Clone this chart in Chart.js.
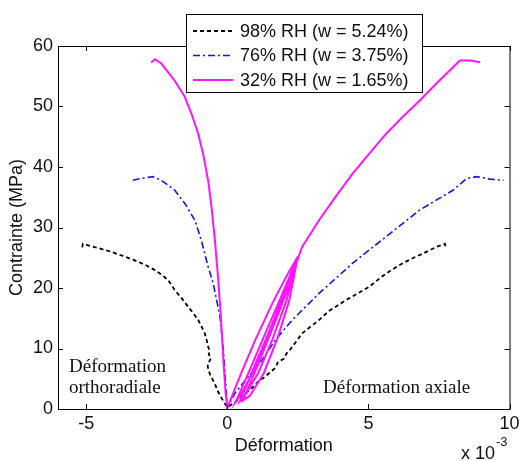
<!DOCTYPE html>
<html>
<head>
<meta charset="utf-8">
<script src="https://cdn.jsdelivr.net/npm/chart.js@4/dist/chart.umd.min.js"></script>
<style>
  html, body { margin: 0; padding: 0; background: #fff; }
  #wrap { width: 526px; height: 461px; }
</style>
</head>
<body>
<div id="wrap"><canvas id="grafico"></canvas></div>
<script>
// valeurs (deformation en 1e-3, contrainte en MPa)
const xTicks = [-5, 0, 5, 10]
const yTicks = [0, 10, 20, 30, 40, 50, 60]
const series = ['98% RH (w = 5.24%)', '76% RH (w = 3.75%)', '32% RH (w = 1.65%)']

const rh98X = [-5.14, -5.12, -4.96, -4.5, -4.13, -3.7, -3.3, -2.9, -2.58, -2.3, -2.1, -1.95, -1.87, -1.6, -1.39, -1.2, -1.03, -0.9, -0.8, -0.72, -0.68, -0.62, -0.66, -0.58, -0.62, -0.7, -0.68, -0.6, -0.5, -0.42, -0.32, -0.2, -0.1, 0,
  0.3, 0.7, 1.0, 1.1, 1.3, 1.5, 1.7, 1.8, 2.0, 2.1, 2.2, 2.3, 2.5, 2.65, 3.0, 3.25, 3.6, 3.84, 4.2, 4.44, 4.8, 5.03, 5.4, 5.63, 6.0, 6.22, 6.6, 6.94, 7.2, 7.41, 7.6, 7.71, 7.73]
const rh98Y = [26.7, 27.3, 27.1, 26.5, 26.0, 25.3, 24.6, 23.8, 23.0, 22.1, 21.3, 20.3, 19.7, 18.2, 16.9, 15.8, 14.7, 13.5, 12.5, 11.2, 10.3, 9.6, 9.0, 8.5, 8.0, 7.4, 6.6, 5.6, 4.7, 3.9, 2.8, 1.8, 1.0, 0.3,
  1.2, 2.8, 4.0, 4.6, 5.2, 6.0, 6.8, 7.8, 8.3, 9.2, 9.6, 10.3, 11.5, 12.5, 13.8, 14.7, 16.2, 16.9, 18.0, 18.6, 19.6, 20.2, 21.6, 22.4, 23.5, 24.1, 25.0, 25.7, 26.3, 26.8, 27.1, 27.3, 26.9]

const rh76X = [-3.35, -3.06, -2.64, -2.34, -1.87, -1.51, -1.15, -0.92, -0.68, -0.5, -0.38, -0.26, -0.14, -0.06, 0,
  0.27, 0.75, 1.23, 1.7, 2.3, 3.25, 4.44, 5.63, 6.82, 8.01, 8.48, 8.84, 9.31, 9.79]
const rh76Y = [37.8, 38.1, 38.4, 37.8, 36.2, 34.0, 31.2, 27.9, 23.5, 20.8, 18.0, 15.3, 9.8, 4.3, 0.2,
  2.6, 5.4, 8.1, 11.4, 14.7, 19.1, 24.1, 28.5, 32.9, 36.2, 38.1, 38.4, 38.0, 37.8]

const rh32X = [-2.7, -2.56, -2.34, -1.87, -1.51, -1.27, -1.03, -0.86, -0.68, -0.56, -0.44, -0.32, -0.23, -0.14, -0.06, 0,
  0.5, 1.0, 1.6, 2.1, 2.5,
  2.0, 1.5, 1.0, 0.5, 0.3,
  0.8, 1.3, 1.9, 2.5,
  2.1, 1.6, 1.1, 0.6, 0.45,
  1.0, 1.5, 2.0, 2.5,
  2.2, 1.8, 1.3, 0.8, 0.55,
  1.1, 1.7, 2.2, 2.55,
  2.65, 3.25, 3.84, 4.44, 5.03, 5.63, 6.22, 6.82, 7.41, 7.89, 8.24, 8.6, 8.96]
const rh32Y = [57.3, 57.8, 57.1, 54.3, 51.6, 48.8, 45.5, 42.2, 37.8, 33.4, 27.9, 21.3, 15.3, 8.1, 2.6, 0.2,
  6.0, 11.5, 17.5, 22.0, 25.2,
  18.5, 12.5, 7.0, 2.5, 1.2,
  6.5, 12.0, 18.5, 25.2,
  18.0, 11.5, 6.0, 2.0, 1.3,
  7.5, 13.0, 19.0, 25.2,
  18.0, 12.0, 6.0, 2.2, 1.4,
  7.5, 14.5, 20.5, 25.5,
  26.8, 31.2, 35.1, 38.9, 42.2, 45.5, 48.3, 51.0, 53.8, 56.0, 57.6, 57.6, 57.3]

const pts = (xs, ys) => xs.map((x, i) => ({ x: x, y: ys[i] }))

const sans = 'Liberation Sans, Arial, sans-serif'
const serif = 'Liberation Serif, Times New Roman, serif'

// cadre, graduations internes, titres, legende et annotations
const decor = {
    id: 'decor',
    afterDraw(chart) {
        const ctx = chart.ctx
        const a = chart.chartArea
        const sx = chart.scales.x
        const sy = chart.scales.y
        ctx.save()
        ctx.strokeStyle = '#000'
        ctx.lineWidth = 1
        ctx.setLineDash([])
        ctx.strokeRect(a.left + 0.5, a.top + 0.5, a.right - a.left, a.bottom - a.top)
        ctx.beginPath()
        xTicks.forEach(v => {
            const px = Math.round(sx.getPixelForValue(v)) + 0.5
            ctx.moveTo(px, a.bottom); ctx.lineTo(px, a.bottom - 5)
            ctx.moveTo(px, a.top); ctx.lineTo(px, a.top + 5)
        })
        yTicks.forEach(v => {
            const py = Math.round(sy.getPixelForValue(v)) + 0.5
            ctx.moveTo(a.left, py); ctx.lineTo(a.left + 5, py)
            ctx.moveTo(a.right, py); ctx.lineTo(a.right - 5, py)
        })
        ctx.stroke()

        ctx.fillStyle = '#111'
        ctx.font = '18px ' + sans
        ctx.textAlign = 'center'
        ctx.textBaseline = 'middle'
        ctx.fillText('Déformation', (a.left + a.right) / 2, 446)
        ctx.save()
        ctx.translate(17, (a.top + a.bottom) / 2)
        ctx.rotate(-Math.PI / 2)
        ctx.fillText('Contrainte (MPa)', 0, 0)
        ctx.restore()
        ctx.textAlign = 'left'
        ctx.fillText('x 10', 461, 454)
        ctx.font = '13px ' + sans
        ctx.fillText('-3', 496, 442)

        ctx.font = '19px ' + serif
        ctx.textBaseline = 'alphabetic'
        ctx.fillText('Déformation', 69, 372)
        ctx.fillText('orthoradiale', 69, 393)
        ctx.fillText('Déformation axiale', 323, 393)

        // legende
        ctx.fillStyle = '#fff'
        ctx.fillRect(186, 14, 237, 78)
        ctx.strokeRect(186.5, 14.5, 236, 78)
        const rows = [31, 55.5, 80]
        chart.data.datasets.forEach((ds, i) => {
            ctx.beginPath()
            ctx.strokeStyle = ds.borderColor
            ctx.lineWidth = ds.borderWidth
            ctx.setLineDash(ds.borderDash || [])
            ctx.moveTo(193, rows[i]); ctx.lineTo(233, rows[i])
            ctx.stroke()
            ctx.setLineDash([])
            ctx.fillStyle = '#111'
            ctx.font = '18px ' + sans
            ctx.textBaseline = 'middle'
            ctx.fillText(ds.label, 240, rows[i] + 1)
        })
        ctx.restore()
    }
}

const ctx_graf = document.getElementById('grafico').getContext('2d')

let grafico = new Chart(ctx_graf, {
    type: 'scatter',
    data: {
        datasets: [{
            label: series[0],
            data: pts(rh98X, rh98Y),
            borderColor: '#000000',
            borderWidth: 1.8,
            borderDash: [4, 3],
            order: 3
        }, {
            label: series[1],
            data: pts(rh76X, rh76Y),
            borderColor: '#1414e6',
            borderWidth: 1.6,
            borderDash: [7, 3, 2, 3],
            order: 2
        }, {
            label: series[2],
            data: pts(rh32X, rh32Y),
            borderColor: '#ff14ff',
            borderWidth: 2,
            order: 1
        }]
    },
    options: {
        responsive: true,
        maintainAspectRatio: false,
        animation: false,
        showLine: true,
        elements: {
            point: { radius: 0, hoverRadius: 0 },
            line: { tension: 0 }
        },
        layout: {
            padding: { top: 46, right: 16.5, left: 0, bottom: 0 }
        },
        plugins: {
            legend: { display: false },
            tooltip: { enabled: false },
            title: { display: false }
        },
        scales: {
            x: {
                type: 'linear',
                min: -6,
                max: 10,
                grid: { display: false, drawTicks: false },
                border: { display: false },
                afterBuildTicks: s => { s.ticks = xTicks.map(v => ({ value: v })) },
                afterFit: s => { s.height = 52 },
                ticks: {
                    padding: 4,
                    color: '#111',
                    font: { family: sans, size: 18 },
                    maxRotation: 0
                }
            },
            y: {
                type: 'linear',
                min: 0,
                max: 60,
                grid: { display: false, drawTicks: false },
                border: { display: false },
                afterBuildTicks: s => { s.ticks = yTicks.map(v => ({ value: v })) },
                afterFit: s => { s.width = 58 },
                ticks: {
                    padding: 5,
                    color: '#111',
                    font: { family: sans, size: 18 }
                }
            }
        }
    },
    plugins: [decor]
});
</script>
</body>
</html>
